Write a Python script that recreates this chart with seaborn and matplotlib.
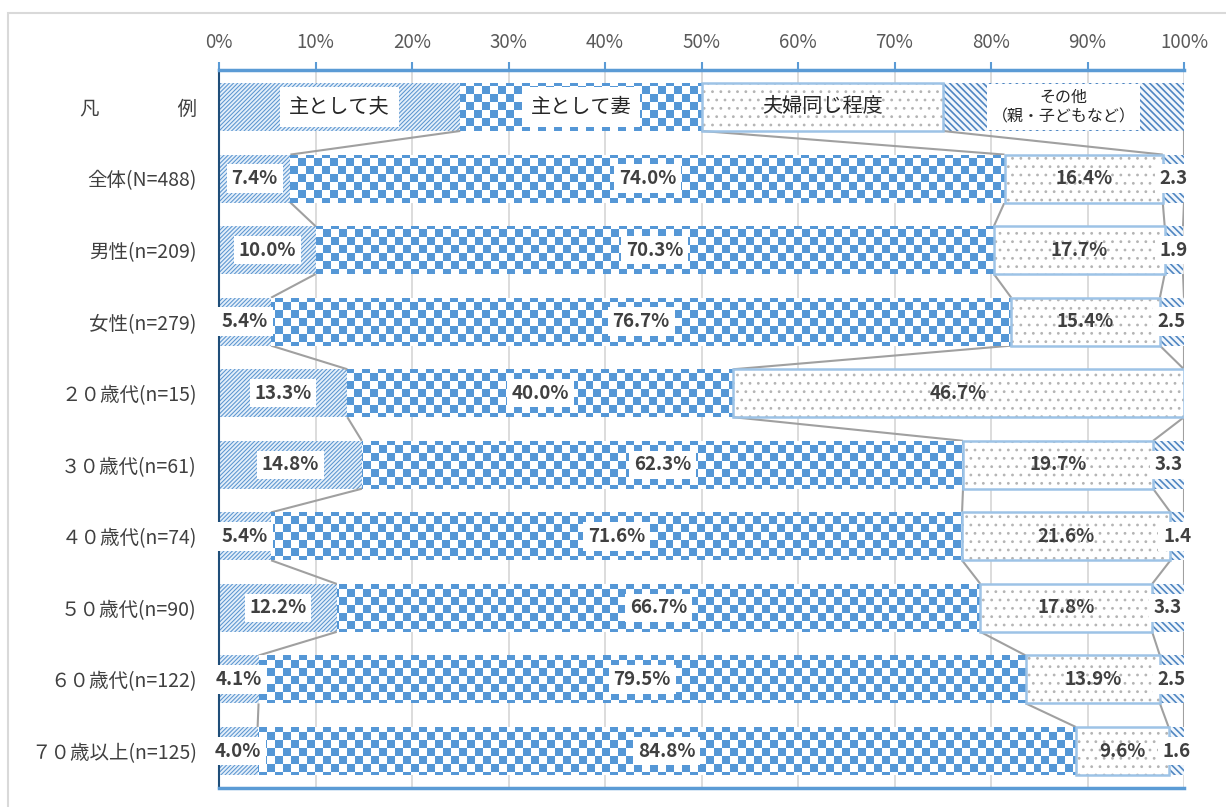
import numpy as np
import matplotlib
matplotlib.use("Agg")
import matplotlib.pyplot as plt
from matplotlib.patches import Rectangle
from matplotlib.colors import ListedColormap
import seaborn as sns

# ---- data -------------------------------------------------------------
categories = ["凡　　　　例", "全体(N=488)", "男性(n=209)", "女性(n=279)",
              "２０歳代(n=15)", "３０歳代(n=61)", "４０歳代(n=74)",
              "５０歳代(n=90)", "６０歳代(n=122)", "７０歳以上(n=125)"]
series_names = ["主として夫", "主として妻", "夫婦同じ程度", "その他\n（親・子どもなど）"]
# first row is the in-chart legend (four equal quarters)
husband = [25, 7.4, 10.0, 5.4, 13.3, 14.8, 5.4, 12.2, 4.1, 4.0]
wife = [25, 74.0, 70.3, 76.7, 40.0, 62.3, 71.6, 66.7, 79.5, 84.8]
equal = [25, 16.4, 17.7, 15.4, 46.7, 19.7, 21.6, 17.8, 13.9, 9.6]
other = [25, 2.3, 1.9, 2.5, 0.0, 3.3, 1.4, 3.3, 2.5, 1.6]
xticks = list(range(0, 101, 10))

# ---- style ------------------------------------------------------------
sns.set_theme(style="white")
plt.rcParams["font.family"] = ["Noto Sans CJK JP", "DejaVu Sans"]
TEXT = "#404040"
BLUE = "#5B9BD5"

fig = plt.figure(figsize=(12.26, 8.07), dpi=100)
ax = fig.add_axes([219 / 1226, 1 - 788 / 807, 965 / 1226, 718 / 807])

series = [husband, wife, equal, other]
lefts = np.cumsum([[0] * len(husband)] + series[:-1], axis=0)

styles = [
    dict(color="#E4EFFA", hatch="////////", edgecolor="#5B95CF", hatch_lw=0.75),
    dict(color="white", hatch=None, edgecolor="none", hatch_lw=1.0),
    dict(color="white", hatch="..", edgecolor="#B4B4B4", hatch_lw=0.8),
    dict(color="#F2F7FC", hatch="\\\\\\\\\\", edgecolor="#4F86C2", hatch_lw=1.2),
]

containers = []
for vals, left, st in zip(series, lefts, styles):
    plt.rcParams["hatch.linewidth"] = st["hatch_lw"]
    sns.barplot(x=vals, y=categories, left=left, orient="h", ax=ax,
                color=st["color"], saturation=1, errorbar=None, width=0.67,
                hatch=st["hatch"], edgecolor=st["edgecolor"], linewidth=0)
    cont = ax.containers[-1]
    for p in cont.patches:
        if hasattr(p, "set_hatch_linewidth"):
            p.set_hatch_linewidth(st["hatch_lw"])
    containers.append(cont)

YLIM = (len(categories) - 1 + 0.517, -0.517)

# checkerboard fill for the "主として妻" bars
nrows, ncols = 90, 121
checker = (np.add.outer(np.arange(nrows), np.arange(ncols)) % 2).astype(float)
cmap = ListedColormap(["#FFFFFF", "#5597D6"])
for p in containers[1].patches:
    im = ax.imshow(checker, cmap=cmap, interpolation="nearest", aspect="auto",
                   extent=(0, 100, YLIM[0], YLIM[1]), zorder=1.2)
    im.set_clip_path(p)

# light blue outline for the "夫婦同じ程度" bars
for p in containers[2].patches:
    ax.add_patch(Rectangle(p.get_xy(), p.get_width(), p.get_height(),
                           fill=False, ec="#9DC3E6", lw=1.8, zorder=1.3))

# series connector lines between consecutive rows
for cont in containers:
    ps = cont.patches
    for a, b in zip(ps[:-1], ps[1:]):
        xa = a.get_x() + a.get_width()
        xb = b.get_x() + b.get_width()
        ax.plot([min(xa, 100), min(xb, 100)],
                [a.get_y() + a.get_height(), b.get_y()],
                color="#A0A0A0", lw=1.5, zorder=1.1, solid_capstyle="butt")

# ---- labels -----------------------------------------------------------
box = dict(boxstyle="square,pad=0.25", fc="white", ec="none")
for i, (cont, vals) in enumerate(zip(containers, series)):
    if i < 3:
        labels = [f"{v:.1f}%" for v in vals]
    else:
        labels = [f"{v:.1f}" if v > 0 else "" for v in vals]
    labels[0] = series_names[i]
    texts = ax.bar_label(cont, labels=labels, label_type="center",
                         fontsize=13.5, fontweight="bold", color=TEXT,
                         bbox=None if i == 2 else box, zorder=5)
    t0 = texts[0]
    t0.set_fontweight("normal")
    t0.set_color("#262626")
    if i == 3:
        t0.set_fontsize(11.5)
        t0.set_linespacing(1.25)
        t0.set_bbox(dict(boxstyle="square,pad=0.3", fc="white", ec="none"))
    else:
        t0.set_fontsize(14.5)
        if i != 2:
            t0.set_bbox(dict(boxstyle="square,pad=0.45", fc="white", ec="none"))

# ---- axes -------------------------------------------------------------
ax.set_xlim(0, 100)
ax.set_ylim(*YLIM)
ax.xaxis.tick_top()
ax.set_xticks(xticks)
ax.set_xticklabels([f"{v}%" for v in xticks], fontsize=13.5, color="#595959")
ax.tick_params(axis="x", direction="out", length=6, width=1.5, color=BLUE, pad=6)
ax.tick_params(axis="y", length=0, pad=16, labelsize=14, labelcolor=TEXT)
ax.set_xlabel("")
ax.set_ylabel("")
ax.grid(axis="x", color="#D9D9D9", lw=1.3)
ax.grid(axis="y", visible=False)
ax.set_axisbelow(True)
for side in ("top", "bottom"):
    ax.spines[side].set_color(BLUE)
    ax.spines[side].set_linewidth(2.5)
ax.spines["left"].set_color("#1F4E79")
ax.spines["left"].set_linewidth(1.5)
ax.spines["right"].set_visible(False)

# outer chart frame
fig.add_artist(Rectangle((8 / 1226, -0.05), 1.2, (807 - 13) / 807 + 0.05,
                         transform=fig.transFigure, fill=False,
                         ec="#D9D9D9", lw=1.5))

fig.savefig("out.png", dpi=100)
